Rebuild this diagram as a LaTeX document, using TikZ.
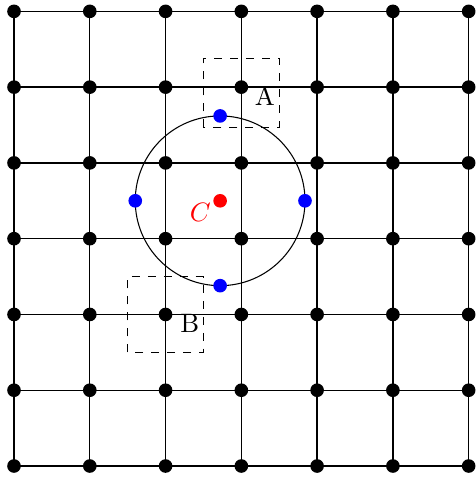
\documentclass[tikz,border=0pt]{standalone}
\usepackage{tikz}

\begin{document}
\begin{tikzpicture}[x=1cm, y=1cm]
\draw[line width=0.5pt] (0,0) -- (0,6);
\draw[line width=0.5pt] (1,0) -- (1,6);
\draw[line width=0.5pt] (2,0) -- (2,6);
\draw[line width=0.5pt] (3,0) -- (3,6);
\draw[line width=0.5pt] (4,0) -- (4,6);
\draw[line width=0.5pt] (5,0) -- (5,6);
\draw[line width=0.5pt] (6,0) -- (6,6);
\draw[line width=0.5pt] (0,0) -- (6,0);
\draw[line width=0.5pt] (0,1) -- (6,1);
\draw[line width=0.5pt] (0,2) -- (6,2);
\draw[line width=0.5pt] (0,3) -- (6,3);
\draw[line width=0.5pt] (0,4) -- (6,4);
\draw[line width=0.5pt] (0,5) -- (6,5);
\draw[line width=0.5pt] (0,6) -- (6,6);
\fill (0,0) circle (0.09) (1,0) circle (0.09) (2,0) circle (0.09) (3,0) circle (0.09) (4,0) circle (0.09) (5,0) circle (0.09) (6,0) circle (0.09);
\fill (0,1) circle (0.09) (1,1) circle (0.09) (2,1) circle (0.09) (3,1) circle (0.09) (4,1) circle (0.09) (5,1) circle (0.09) (6,1) circle (0.09);
\fill (0,2) circle (0.09) (1,2) circle (0.09) (2,2) circle (0.09) (3,2) circle (0.09) (4,2) circle (0.09) (5,2) circle (0.09) (6,2) circle (0.09);
\fill (0,3) circle (0.09) (1,3) circle (0.09) (2,3) circle (0.09) (3,3) circle (0.09) (4,3) circle (0.09) (5,3) circle (0.09) (6,3) circle (0.09);
\fill (0,4) circle (0.09) (1,4) circle (0.09) (2,4) circle (0.09) (3,4) circle (0.09) (4,4) circle (0.09) (5,4) circle (0.09) (6,4) circle (0.09);
\fill (0,5) circle (0.09) (1,5) circle (0.09) (2,5) circle (0.09) (3,5) circle (0.09) (4,5) circle (0.09) (5,5) circle (0.09) (6,5) circle (0.09);
\fill (0,6) circle (0.09) (1,6) circle (0.09) (2,6) circle (0.09) (3,6) circle (0.09) (4,6) circle (0.09) (5,6) circle (0.09) (6,6) circle (0.09);
\draw[dashed, line width=0.4pt] (2.5,4.47) rectangle (3.5,5.38);
\node (boxA) at (3.31,4.89) {A};
\draw[dashed, line width=0.4pt] (1.5,1.5) rectangle (2.5,2.5);
\node (boxB) at (2.32,1.88) {B};
\draw[line width=0.4pt] (2.72,3.5) circle (1.12);
\fill[blue] (2.72,4.62) circle (0.09) (2.72,2.38) circle (0.09) (1.6,3.5) circle (0.09) (3.84,3.5) circle (0.09);
\fill[red] (2.72,3.5) circle (0.09);
\node[red] (centreC) at (2.46,3.35) {$C$};
\path (-0.185,-0.145) rectangle (6.04,6.15);
\end{tikzpicture}
\end{document}
